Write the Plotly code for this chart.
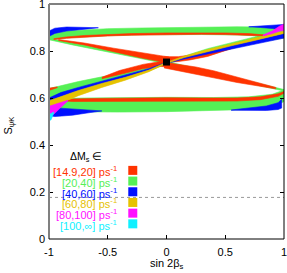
import plotly.graph_objects as go

# ---------------- data ----------------
# green regions  (Delta M_s in [20,40])
green_top_x  = [-1, -0.95, -0.85, -0.7, -0.5, -0.2, 0, 0.3, 0.6, 0.8, 0.95, 1]
green_top_hi = [0.862, 0.875, 0.885, 0.89, 0.895, 0.898, 0.9, 0.902, 0.903, 0.902, 0.9, 0.898]
green_top_lo = [0.848, 0.85, 0.856, 0.861, 0.865, 0.869, 0.87, 0.87, 0.868, 0.864, 0.86, 0.857]

green_desc_x  = [-1, -0.8, -0.5, -0.2, 0, 0.2, 0.5, 0.8, 1]
green_desc_hi = [0.853, 0.836, 0.806, 0.777, 0.755, 0.733, 0.697, 0.662, 0.636]
green_desc_lo = [0.848, 0.826, 0.795, 0.766, 0.745, 0.722, 0.686, 0.651, 0.63]

green_bot_x  = [-1, -0.9, -0.7, -0.4, 0, 0.4, 0.7, 0.9, 1]
green_bot_hi = [0.61, 0.598, 0.6, 0.602, 0.603, 0.602, 0.605, 0.616, 0.634]
green_bot_lo = [0.545, 0.542, 0.54, 0.54, 0.542, 0.546, 0.551, 0.56, 0.585]

green_asc_x  = [-1, -0.9, -0.75, -0.55, -0.35, -0.15, 0, 0.15, 0.35, 0.55, 0.75, 0.9, 1]
green_asc_hi = [0.64, 0.652, 0.67, 0.69, 0.707, 0.73, 0.755, 0.778, 0.81, 0.835, 0.86, 0.885, 0.9]
green_asc_lo = [0.6, 0.605, 0.632, 0.66, 0.685, 0.715, 0.745, 0.765, 0.785, 0.81, 0.835, 0.848, 0.855]

# blue regions  (Delta M_s in [40,60])
blue_tl_x  = [-1, -0.95, -0.85, -0.75, -0.65, -0.58]
blue_tl_hi = [0.885, 0.897, 0.902, 0.902, 0.9, 0.899]
blue_tl_lo = [0.862, 0.875, 0.885, 0.89, 0.895, 0.899]

blue_tr_x  = [0.7, 0.8, 0.9, 0.97, 1]
blue_tr_hi = [0.903, 0.906, 0.91, 0.913, 0.913]
blue_tr_lo = [0.903, 0.9, 0.896, 0.892, 0.89]

blue_bl_x  = [-1, -0.95, -0.8, -0.65, -0.55]
blue_bl_hi = [0.56, 0.558, 0.553, 0.548, 0.545]
blue_bl_lo = [0.525, 0.521, 0.527, 0.538, 0.545]

blue_br_x  = [0.55, 0.7, 0.85, 0.95, 0.98]
blue_br_hi = [0.549, 0.556, 0.566, 0.58, 0.595]
blue_br_lo = [0.548, 0.546, 0.547, 0.551, 0.557]

blue_asc_x  = [-1, -0.9, -0.75, -0.55, -0.35, -0.15, 0, 0.15, 0.35, 0.55, 0.75, 0.9, 1]
blue_asc_hi = [0.6, 0.623, 0.645, 0.672, 0.697, 0.725, 0.752, 0.772, 0.797, 0.822, 0.845, 0.862, 0.875]
blue_asc_lo = [0.588, 0.605, 0.632, 0.662, 0.688, 0.719, 0.747, 0.766, 0.787, 0.81, 0.83, 0.845, 0.855]

# yellow region (Delta M_s in [60,80])
yellow_x  = [-1, -0.9, -0.75, -0.55, -0.35, -0.15, 0, 0.15, 0.35, 0.55, 0.75, 0.9, 1]
yellow_hi = [0.588, 0.605, 0.632, 0.662, 0.688, 0.719, 0.752, 0.778, 0.806, 0.83, 0.855, 0.874, 0.885]
yellow_lo = [0.565, 0.578, 0.61, 0.645, 0.676, 0.712, 0.747, 0.772, 0.797, 0.822, 0.845, 0.862, 0.875]

# magenta regions (Delta M_s in [80,100])
magenta_l_x  = [-1, -0.95, -0.9, -0.84]
magenta_l_hi = [0.565, 0.572, 0.58, 0.59]
magenta_l_lo = [0.52, 0.535, 0.56, 0.587]
magenta_r_x  = [0.82, 0.9, 0.96, 1]
magenta_r_hi = [0.868, 0.885, 0.905, 0.915]
magenta_r_lo = [0.864, 0.874, 0.884, 0.887]

# cyan region (Delta M_s in [100,inf])
cyan_x  = [-1, -0.98, -0.96]
cyan_hi = [0.53, 0.535, 0.54]
cyan_lo = [0.5, 0.51, 0.535]

# red regions (Delta M_s in [14.9,20])
red_top_x  = [-0.96, -0.85, -0.7, -0.5, -0.3, 0, 0.3, 0.5, 0.7, 0.85, 0.9]
red_top_hi = [0.852, 0.86, 0.866, 0.871, 0.874, 0.877, 0.878, 0.877, 0.874, 0.869, 0.866]
red_top_lo = [0.849, 0.854, 0.859, 0.864, 0.867, 0.87, 0.871, 0.87, 0.867, 0.864, 0.863]

red_bot_x  = [-0.88, -0.8, -0.6, -0.3, 0, 0.3, 0.6, 0.8, 0.95, 1]
red_bot_hi = [0.592, 0.596, 0.598, 0.6, 0.601, 0.6, 0.6, 0.605, 0.618, 0.628]
red_bot_lo = [0.588, 0.585, 0.584, 0.585, 0.586, 0.586, 0.587, 0.593, 0.607, 0.62]

red_ul_x  = [-0.92, -0.7, -0.45, -0.2, -0.05, 0.02]
red_ul_hi = [0.849, 0.834, 0.812, 0.79, 0.78, 0.775]
red_ul_lo = [0.845, 0.826, 0.797, 0.769, 0.755, 0.75]

red_lr_x  = [-0.02, 0.1, 0.25, 0.4, 0.6, 0.8, 0.93]
red_lr_hi = [0.752, 0.744, 0.732, 0.716, 0.689, 0.663, 0.645]
red_lr_lo = [0.728, 0.716, 0.7, 0.686, 0.666, 0.649, 0.639]

red_ll_x  = [-0.55, -0.4, -0.2, -0.05, 0.02]
red_ll_hi = [0.688, 0.717, 0.743, 0.755, 0.752]
red_ll_lo = [0.682, 0.7, 0.725, 0.735, 0.73]

red_ur_x  = [-0.02, 0.1, 0.2, 0.35, 0.5, 0.65]
red_ur_hi = [0.776, 0.776, 0.782, 0.795, 0.812, 0.83]
red_ur_lo = [0.752, 0.755, 0.762, 0.777, 0.8, 0.826]

red_tip_x  = [-1, -0.93]
red_tip_hi = [0.642, 0.647]
red_tip_lo = [0.632, 0.644]

# central point and dotted reference line
center_x = [0]
center_y = [0.753]
ref_line_y = 0.177

# legend
legend_labels = ["[14.9,20] ps<sup>-1</sup>", "[20,40] ps<sup>-1</sup>", "[40,60] ps<sup>-1</sup>",
                 "[60,80] ps<sup>-1</sup>", "[80,100] ps<sup>-1</sup>", "[100,\u221e] ps<sup>-1</sup>"]
legend_title = "\u0394M<sub>s</sub> \u2208"

x_tickvals = [-1, -0.5, 0, 0.5, 1]
x_ticktext = ["-1", "-0.5", "0", "0.5", "1"]
y_tickvals = [0, 0.2, 0.4, 0.6, 0.8, 1]
y_ticktext = ["0", "0.2", "0.4", "0.6", "0.8", "1"]

RED = "#ff3300"
GREEN = "#55f055"
BLUE = "#0010ff"
YELLOW = "#e6c200"
MAGENTA = "#ff10ff"
CYAN = "#10f0ff"
colors = [RED, GREEN, BLUE, YELLOW, MAGENTA, CYAN]

# ---------------- figure ----------------
fig = go.Figure()

def band(x, hi, lo, color):
    fig.add_trace(go.Scatter(
        x=list(x) + list(x)[::-1], y=list(hi) + list(lo)[::-1],
        mode="lines", fill="toself", fillcolor=color,
        line=dict(width=0.6, color=color), hoverinfo="skip", showlegend=False))

band(green_top_x, green_top_hi, green_top_lo, GREEN)
band(green_desc_x, green_desc_hi, green_desc_lo, GREEN)
band(green_bot_x, green_bot_hi, green_bot_lo, GREEN)
band(green_asc_x, green_asc_hi, green_asc_lo, GREEN)

band(blue_tl_x, blue_tl_hi, blue_tl_lo, BLUE)
band(blue_tr_x, blue_tr_hi, blue_tr_lo, BLUE)
band(blue_bl_x, blue_bl_hi, blue_bl_lo, BLUE)
band(blue_br_x, blue_br_hi, blue_br_lo, BLUE)

band(red_top_x, red_top_hi, red_top_lo, RED)
band(red_bot_x, red_bot_hi, red_bot_lo, RED)
band(red_ul_x, red_ul_hi, red_ul_lo, RED)
band(red_lr_x, red_lr_hi, red_lr_lo, RED)
band(red_ll_x, red_ll_hi, red_ll_lo, RED)
band(red_ur_x, red_ur_hi, red_ur_lo, RED)
band(red_tip_x, red_tip_hi, red_tip_lo, RED)

band(blue_asc_x, blue_asc_hi, blue_asc_lo, BLUE)
band(yellow_x, yellow_hi, yellow_lo, YELLOW)
band(magenta_l_x, magenta_l_hi, magenta_l_lo, MAGENTA)
band(magenta_r_x, magenta_r_hi, magenta_r_lo, MAGENTA)
band(cyan_x, cyan_hi, cyan_lo, CYAN)

# central black square
fig.add_trace(go.Scatter(x=center_x, y=center_y, mode="markers",
                         marker=dict(symbol="square", size=7, color="black", line=dict(width=0)),
                         hoverinfo="skip", showlegend=False))

# dotted reference line
fig.add_trace(go.Scatter(x=[-1, 1], y=[ref_line_y, ref_line_y], mode="lines",
                         line=dict(color="#999999", width=1, dash="dot"),
                         hoverinfo="skip", showlegend=False))

# legend squares + labels
leg_x = -0.287
leg_y0 = 0.292
leg_step = 0.0455
leg_ys = [leg_y0 - i * leg_step for i in range(len(colors))]
fig.add_trace(go.Scatter(x=[leg_x] * len(colors), y=leg_ys, mode="markers",
                         marker=dict(symbol="square", size=9, color=colors, line=dict(width=0)),
                         hoverinfo="skip", showlegend=False))
FONT = "Liberation Sans, Arial, sans-serif"
for lab, c, yy in zip(legend_labels, colors, leg_ys):
    fig.add_annotation(x=-0.404, y=yy, xref="x", yref="y", text=lab, showarrow=False,
                       xanchor="right", yanchor="middle", yshift=-1,
                       font=dict(family=FONT, size=11, color=c))
fig.add_annotation(x=-0.685, y=0.351, xref="x", yref="y", text=legend_title, showarrow=False,
                   xanchor="center", yanchor="middle", font=dict(family=FONT, size=10.5, color="black"))

# axis titles
fig.add_annotation(x=0.5, y=-0.108, xref="paper", yref="paper", text="sin 2\u03b2<sub>s</sub>",
                   showarrow=False, xanchor="center", yanchor="middle",
                   font=dict(family=FONT, size=11, color="black"))
fig.add_annotation(x=-0.172, y=0.485, xref="paper", yref="paper", text="S<sub>\u03c8K</sub>",
                   showarrow=False, textangle=-90, xanchor="center", yanchor="middle",
                   font=dict(family=FONT, size=11, color="black"))

# frame: gray on left/top, black on bottom/right
fig.add_shape(type="line", xref="paper", yref="paper", x0=0, x1=0, y0=0, y1=1,
              line=dict(color="#808080", width=2))
fig.add_shape(type="line", xref="paper", yref="paper", x0=0, x1=1, y0=1, y1=1,
              line=dict(color="#808080", width=2))
fig.add_shape(type="line", xref="paper", yref="paper", x0=0, x1=1, y0=0, y1=0,
              line=dict(color="black", width=1))
fig.add_shape(type="line", xref="paper", yref="paper", x0=1, x1=1, y0=0, y1=1,
              line=dict(color="black", width=1))

axis_common = dict(showgrid=False, zeroline=False, showline=False,
                   ticks="inside", ticklen=4, tickwidth=1, tickcolor="black",
                   mirror="ticks", ticklabeloverflow="allow", automargin=False,
                   tickfont=dict(family=FONT, size=11, color="black"))
fig.update_xaxes(range=[-1, 1], tickvals=x_tickvals, ticktext=x_ticktext,
                 ticklabelstandoff=5, **axis_common)
fig.update_yaxes(range=[0, 1], tickvals=y_tickvals, ticktext=y_ticktext,
                 ticklabelstandoff=3, **axis_common)

fig.update_layout(width=287, height=273, margin=dict(l=49, r=3, t=4, b=34),
                  plot_bgcolor="white", paper_bgcolor="white", showlegend=False)

fig.write_html("out.html", config={"displayModeBar": False},
               post_script="document.body.style.margin='0';document.body.style.overflow='hidden';")
